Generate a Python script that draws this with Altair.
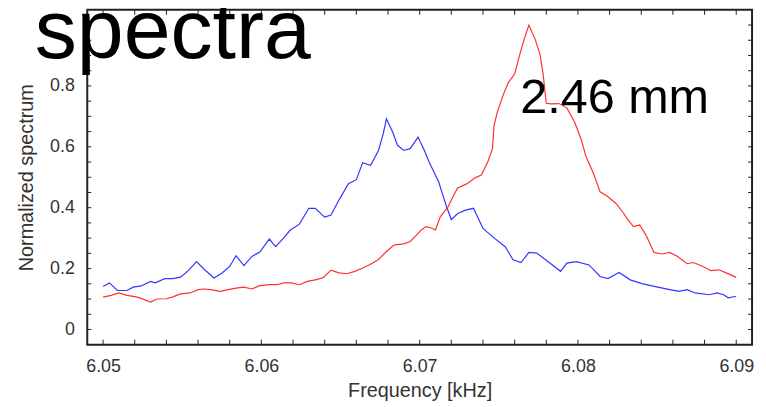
import altair as alt
import pandas as pd

# ---- data ----
freq_blue = [6.0500, 6.0504, 6.0509, 6.0515, 6.0519, 6.0524, 6.0530, 6.0533, 6.0539, 6.0544,
             6.0549, 6.0554, 6.0559, 6.0564, 6.0570, 6.0575, 6.0580, 6.0584, 6.0589, 6.0594,
             6.0599, 6.0605, 6.0609, 6.0614, 6.0618, 6.0624, 6.0630, 6.0634, 6.0640, 6.0644,
             6.0649, 6.0655, 6.0660, 6.0664, 6.0669, 6.0674, 6.0677, 6.0679, 6.0683, 6.0686,
             6.0690, 6.0694, 6.0699, 6.0703, 6.0706, 6.0709, 6.0712, 6.0714, 6.0717, 6.0720,
             6.0724, 6.0729, 6.0734, 6.0737, 6.0740, 6.0746, 6.0754, 6.0759, 6.0764, 6.0769,
             6.0774, 6.0781, 6.0789, 6.0793, 6.0799, 6.0807, 6.0814, 6.0819, 6.0826, 6.0833,
             6.0841, 6.0849, 6.0858, 6.0864, 6.0869, 6.0874, 6.0883, 6.0888, 6.0892, 6.0895,
             6.0900]
norm_blue = [0.141, 0.153, 0.128, 0.128, 0.139, 0.143, 0.158, 0.153, 0.167, 0.167,
             0.172, 0.194, 0.223, 0.197, 0.169, 0.185, 0.207, 0.242, 0.210, 0.240,
             0.254, 0.297, 0.272, 0.300, 0.325, 0.346, 0.398, 0.398, 0.369, 0.376,
             0.425, 0.479, 0.492, 0.548, 0.539, 0.588, 0.643, 0.692, 0.648, 0.605,
             0.588, 0.594, 0.632, 0.588, 0.550, 0.517, 0.485, 0.452, 0.403, 0.361,
             0.381, 0.392, 0.398, 0.365, 0.332, 0.305, 0.272, 0.229, 0.220, 0.253,
             0.251, 0.223, 0.191, 0.218, 0.223, 0.212, 0.174, 0.167, 0.187, 0.163,
             0.150, 0.141, 0.131, 0.125, 0.131, 0.120, 0.114, 0.120, 0.114, 0.104,
             0.109]

freq_red = [6.0500, 6.0505, 6.0510, 6.0515, 6.0521, 6.0524, 6.0530, 6.0534, 6.0540, 6.0544,
            6.0549, 6.0555, 6.0560, 6.0564, 6.0568, 6.0574, 6.0579, 6.0584, 6.0589, 6.0594,
            6.0599, 6.0605, 6.0610, 6.0614, 6.0619, 6.0624, 6.0629, 6.0634, 6.0639, 6.0644,
            6.0649, 6.0654, 6.0659, 6.0664, 6.0669, 6.0674, 6.0679, 6.0684, 6.0690, 6.0694,
            6.0698, 6.0701, 6.0704, 6.0707, 6.0710, 6.0713, 6.0718, 6.0721, 6.0724, 6.0730,
            6.0735, 6.0739, 6.0743, 6.0746, 6.0747, 6.0749, 6.0753, 6.0756, 6.0760, 6.0763,
            6.0766, 6.0769, 6.0773, 6.0776, 6.0778, 6.0780, 6.0783, 6.0788, 6.0793, 6.0798,
            6.0802, 6.0805, 6.0810, 6.0814, 6.0819, 6.0824, 6.0829, 6.0831, 6.0835, 6.0839,
            6.0843, 6.0848, 6.0853, 6.0858, 6.0863, 6.0869, 6.0873, 6.0879, 6.0884, 6.0889,
            6.0894, 6.0900]
norm_red = [0.106, 0.112, 0.120, 0.112, 0.107, 0.102, 0.090, 0.100, 0.101, 0.107,
            0.117, 0.120, 0.131, 0.133, 0.131, 0.125, 0.131, 0.136, 0.139, 0.133,
            0.144, 0.147, 0.147, 0.153, 0.153, 0.147, 0.158, 0.163, 0.170, 0.195,
            0.186, 0.183, 0.191, 0.202, 0.214, 0.230, 0.256, 0.278, 0.281, 0.289,
            0.310, 0.327, 0.338, 0.334, 0.327, 0.370, 0.403, 0.436, 0.465, 0.479,
            0.498, 0.507, 0.550, 0.594, 0.670, 0.713, 0.773, 0.811, 0.839, 0.899,
            0.953, 1.000, 0.953, 0.904, 0.839, 0.743, 0.741, 0.742, 0.728, 0.680,
            0.625, 0.570, 0.510, 0.452, 0.436, 0.414, 0.381, 0.365, 0.338, 0.343,
            0.310, 0.253, 0.248, 0.253, 0.240, 0.216, 0.220, 0.207, 0.193, 0.196,
            0.185, 0.171]

series_names = ["Spectrum 1", "Spectrum 2"]
series_colors = ["#3535ff", "#ff3030"]

x_ticks_major = [6.05, 6.06, 6.07, 6.08, 6.09]
x_ticks_minor = [6.05, 6.052, 6.054, 6.056, 6.058, 6.06, 6.062, 6.064, 6.066, 6.068,
                 6.07, 6.072, 6.074, 6.076, 6.078, 6.08, 6.082, 6.084, 6.086, 6.088, 6.09]
y_ticks_major = [0, 0.2, 0.4, 0.6, 0.8]
y_ticks_minor = [0, 0.05, 0.1, 0.15, 0.2, 0.25, 0.3, 0.35, 0.4, 0.45, 0.5,
                 0.55, 0.6, 0.65, 0.7, 0.75, 0.8, 0.85, 0.9, 0.95, 1.0]
x_domain = [6.049, 6.091]
y_domain = [-0.05, 1.05]

title_text = ["spectra"]
annotation_text = ["2.46 mm"]

# ---- build ----
W, H = 671, 338
FONT = "Liberation Sans"
INK = "#333333"
TICK = "#222222"

df = pd.concat([
    pd.DataFrame({"freq": freq_blue, "value": norm_blue, "series": series_names[0]}),
    pd.DataFrame({"freq": freq_red, "value": norm_red, "series": series_names[1]}),
], ignore_index=True)

xs = alt.Scale(domain=x_domain, nice=False, zero=False)
ys = alt.Scale(domain=y_domain, nice=False, zero=False)

lines = alt.Chart(df).mark_line(strokeWidth=1.2).encode(
    x=alt.X("freq:Q", scale=xs, axis=alt.Axis(
        orient="bottom", values=x_ticks_major, format=".2f", ticks=False, tickSize=0,
        domain=False, grid=False, labelPadding=13, labelFontSize=18, labelColor=INK,
        labelFont=FONT, labelFlush=False, title="Frequency [kHz]", titleFont=FONT,
        titleFontSize=20, titleFontWeight="normal", titleColor=INK, titleY=52,
        titleBaseline="alphabetic")),
    y=alt.Y("value:Q", scale=ys, axis=alt.Axis(
        orient="left", values=y_ticks_major, format="~g", ticks=False, tickSize=0,
        domain=False, grid=False, labelPadding=13, labelFontSize=18, labelColor=INK,
        labelFont=FONT, labelFlush=False, title="Normalized spectrum", titleFont=FONT,
        titleFontSize=20, titleFontWeight="normal", titleColor=INK, titleX=-55,
        titleY=H / 2, titleAngle=270, titleBaseline="alphabetic", titleAlign="center")),
    color=alt.Color("series:N", scale=alt.Scale(domain=series_names, range=series_colors),
                    legend=None),
)

# inward tick marks on all four edges of the frame, placed through the scales
xt = pd.DataFrame({"tick": x_ticks_minor})
yt = pd.DataFrame({"tick": y_ticks_minor})

bottom_ticks = alt.Chart(xt).mark_rule(color=TICK, strokeWidth=1).encode(
    x=alt.X("tick:Q", scale=xs, axis=None), y=alt.value(H - 5), y2=alt.value(H))
top_ticks = alt.Chart(xt).mark_rule(color=TICK, strokeWidth=1).encode(
    x=alt.X("tick:Q", scale=xs, axis=None), y=alt.value(0), y2=alt.value(5))
left_ticks = alt.Chart(yt).mark_rule(color=TICK, strokeWidth=1).encode(
    y=alt.Y("tick:Q", scale=ys, axis=None), x=alt.value(0), x2=alt.value(4))
right_ticks = alt.Chart(yt).mark_rule(color=TICK, strokeWidth=1).encode(
    y=alt.Y("tick:Q", scale=ys, axis=None), x=alt.value(W - 4), x2=alt.value(W))

big_title = alt.Chart(pd.DataFrame({"label": title_text})).mark_text(
    align="left", baseline="alphabetic", fontSize=85, font=FONT, color="black"
).encode(x=alt.value(-53), y=alt.value(49), text="label:N")

annot = alt.Chart(pd.DataFrame({"label": annotation_text})).mark_text(
    align="left", baseline="alphabetic", fontSize=49, font=FONT, color="black"
).encode(x=alt.value(437), y=alt.value(104), text="label:N")

chart = alt.layer(
    lines, bottom_ticks, top_ticks, left_ticks, right_ticks, big_title, annot
).resolve_axis(x="independent", y="independent").properties(
    width=W, height=H,
    autosize=alt.AutoSizeParams(type="none"),
    padding={"left": 80, "top": 0, "right": 6, "bottom": 55},
).configure_view(stroke="#222222", strokeWidth=2)

chart.save("out.html", embed_options={"renderer": "svg", "actions": False})
